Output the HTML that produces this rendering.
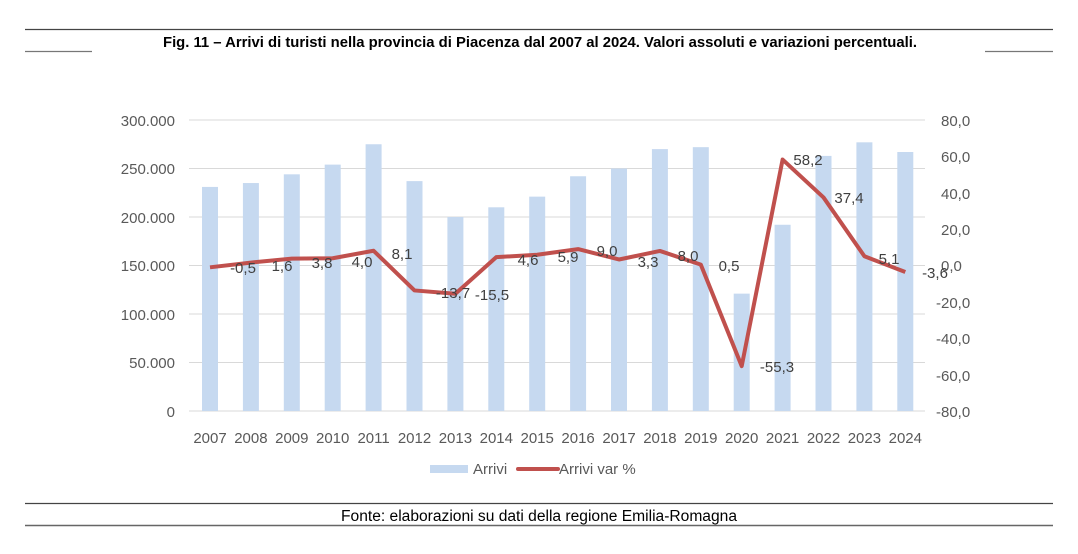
<!DOCTYPE html>
<html><head><meta charset="utf-8"><style>
body{margin:0;background:#fff;}
svg text{font-family:"Liberation Sans",sans-serif;}
</style></head><body>
<svg width="1078" height="549" viewBox="0 0 1078 549" xmlns="http://www.w3.org/2000/svg">
<rect width="1078" height="549" fill="#fff"/>
<line x1="25" y1="29.5" x2="1053" y2="29.5" stroke="#444" stroke-width="1.2"/>
<line x1="25" y1="51.5" x2="92" y2="51.5" stroke="#777" stroke-width="1.2"/>
<line x1="985" y1="51.5" x2="1053" y2="51.5" stroke="#777" stroke-width="1.2"/>
<text x="540" y="47" text-anchor="middle" font-size="14.8" font-weight="bold" fill="#000" textLength="754" lengthAdjust="spacingAndGlyphs">Fig. 11 – Arrivi di turisti nella provincia di Piacenza dal 2007 al 2024. Valori assoluti e variazioni percentuali.</text>
<g stroke="#d9d9d9" stroke-width="1">
<line x1="189" y1="120" x2="925" y2="120"/><line x1="189" y1="168.5" x2="925" y2="168.5"/>
<line x1="189" y1="217" x2="925" y2="217"/><line x1="189" y1="265.5" x2="925" y2="265.5"/>
<line x1="189" y1="314" x2="925" y2="314"/><line x1="189" y1="362.5" x2="925" y2="362.5"/>
<line x1="189" y1="411" x2="925" y2="411"/>
</g>
<g font-size="15" fill="#595959" text-anchor="end">
<text x="175" y="126">300.000</text><text x="175" y="174">250.000</text><text x="175" y="223">200.000</text>
<text x="175" y="271">150.000</text><text x="175" y="320">100.000</text><text x="175" y="368">50.000</text><text x="175" y="417">0</text>
</g>
<g font-size="15" fill="#595959">
<text x="941" y="126">80,0</text><text x="941" y="162">60,0</text><text x="941" y="199">40,0</text>
<text x="941" y="235">20,0</text><text x="941" y="271">0,0</text><text x="936" y="308">-20,0</text>
<text x="936" y="344">-40,0</text><text x="936" y="381">-60,0</text><text x="936" y="417">-80,0</text>
</g>
<g id="bars" fill="#c6d9f0"></g>
<g id="yrs" font-size="15" fill="#595959" text-anchor="middle"></g>
<polyline id="ln" fill="none" stroke="#c0504d" stroke-width="4" stroke-linejoin="round"/>
<g font-size="15" fill="#404040" text-anchor="middle">
<text x="243" y="273">-0,5</text><text x="282" y="271">1,6</text><text x="322" y="268">3,8</text>
<text x="362" y="267">4,0</text><text x="402" y="259">8,1</text><text x="453" y="298">-13,7</text>
<text x="492" y="300">-15,5</text><text x="528" y="265">4,6</text><text x="568" y="262">5,9</text>
<text x="607" y="256">9,0</text><text x="648" y="267">3,3</text><text x="688" y="261">8,0</text>
<text x="729" y="271">0,5</text><text x="777" y="372">-55,3</text><text x="808" y="165">58,2</text>
<text x="849" y="203">37,4</text><text x="889" y="264">5,1</text><text x="935" y="278">-3,6</text>
</g>
<rect x="430" y="465" width="38" height="8" fill="#c6d9f0"/>
<text x="473" y="474" font-size="15" fill="#595959">Arrivi</text>
<line x1="518" y1="469" x2="558" y2="469" stroke="#c0504d" stroke-width="4" stroke-linecap="round"/>
<text x="559" y="474" font-size="15" fill="#595959">Arrivi var %</text>
<line x1="25" y1="503.5" x2="1053" y2="503.5" stroke="#444" stroke-width="1.2"/>
<line x1="25" y1="525.5" x2="1053" y2="525.5" stroke="#666" stroke-width="1.5"/>
<text x="539" y="521" text-anchor="middle" font-size="15.5" fill="#000" textLength="396" lengthAdjust="spacingAndGlyphs">Fonte: elaborazioni su dati della regione Emilia-Romagna</text>
<script>
var a=[231,235,244,254,275,237,200,210,221,242,250,270,272,121,192,263,277,267];
var v=[-1,1.6,3.8,4.0,8.1,-13.7,-15.5,4.6,5.9,9.0,3.3,8.0,0.5,-55.3,58.2,37.4,5.1,-3.6];
var b=document.getElementById('bars'),y=document.getElementById('yrs'),pts=[];
var ns="http://www.w3.org/2000/svg";
for(var i=0;i<18;i++){var cx=210+i*40.9;
var r=document.createElementNS(ns,'rect');var h=a[i]*0.97;
r.setAttribute('x',cx-8);r.setAttribute('y',411-h);r.setAttribute('width',16);r.setAttribute('height',h);b.appendChild(r);
var t=document.createElementNS(ns,'text');t.setAttribute('x',cx);t.setAttribute('y',443);t.textContent=2007+i;y.appendChild(t);
pts.push(cx+','+(265.5-v[i]*1.82));}
document.getElementById('ln').setAttribute('points',pts.join(' '));
</script>
</svg>
</body></html>
